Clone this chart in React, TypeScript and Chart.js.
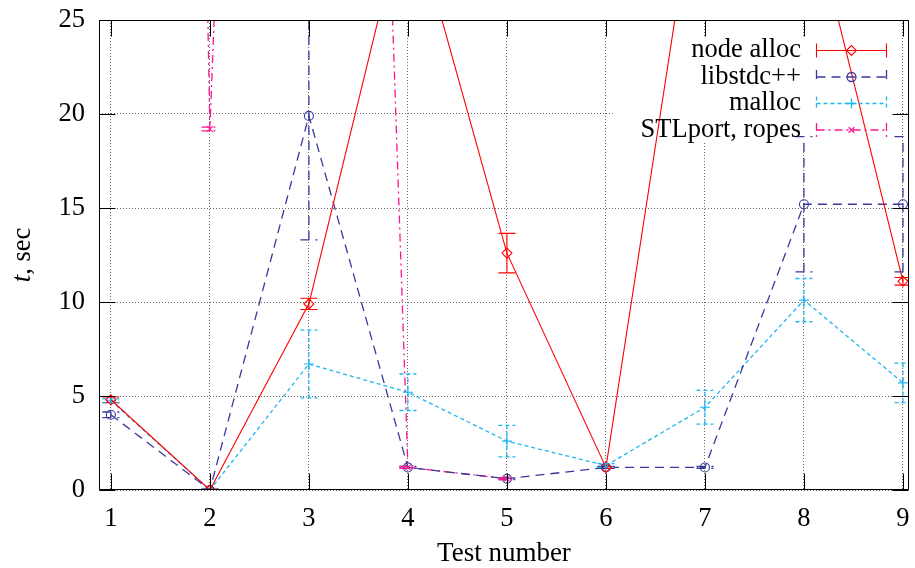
import React, { useEffect, useRef } from 'react';
import { Chart, registerables } from 'chart.js';

Chart.register(...registerables);

// ---- data ----
const tests = [1, 2, 3, 4, 5, 6, 7, 8, 9];
const yTickValues = [0, 5, 10, 15, 20, 25];

const nodeAlloc = [4.8, 0, 9.9, 31.5, 12.6, 1.2, 35.4, 32.4, 11.1];
const nodeAllocErr = [0.15, 0.05, 0.3, 0.5, 1.05, 0.05, 0.5, 0.5, 0.2];

const libstdcpp = [4.0, 0, 19.9, 1.2, 0.6, 1.2, 1.2, 15.2, 15.2];
const libstdcppErr = [0.15, 0.05, 6.6, 0.05, 0.05, 0.05, 0.05, 3.6, 3.6];

const mallocT = [4.75, 0, 6.7, 5.2, 2.6, 1.3, 4.4, 10.1, 5.7];
const mallocErr = [0.1, 0.05, 1.8, 0.97, 0.84, 0.1, 0.9, 1.15, 1.05];

const stlport = [300, 19.2, 155, 1.2, 0.6, null, null, null, null];
const stlportErr = [1, 0.1, 1, 0.05, 0.05, 0, 0, 0, 0];

const seriesNames = ['node alloc', 'libstdc++', 'malloc', 'STLport, ropes'];

const FONT = 'Liberation Serif, Times New Roman, serif';

function toPoints(vals: (number | null)[]) {
  return tests.map((t, i) => ({ x: t, y: vals[i] }));
}

function drawMarker(ctx: CanvasRenderingContext2D, style: string, r: number, x: number, y: number) {
  ctx.beginPath();
  if (style === 'rectRot') {
    ctx.moveTo(x - r, y);
    ctx.lineTo(x, y - r);
    ctx.lineTo(x + r, y);
    ctx.lineTo(x, y + r);
    ctx.closePath();
  } else if (style === 'circle') {
    ctx.arc(x, y, r, 0, Math.PI * 2);
  } else if (style === 'cross') {
    ctx.moveTo(x - r, y);
    ctx.lineTo(x + r, y);
    ctx.moveTo(x, y - r);
    ctx.lineTo(x, y + r);
  } else if (style === 'crossRot') {
    const d = r * Math.SQRT1_2;
    ctx.moveTo(x - d, y - d);
    ctx.lineTo(x + d, y + d);
    ctx.moveTo(x - d, y + d);
    ctx.lineTo(x + d, y - d);
  }
  ctx.stroke();
}

const maskPlugin = {
  id: 'keyMask',
  beforeDatasetsDraw(chart: any) {
    const ctx = chart.ctx;
    ctx.save();
    ctx.fillStyle = '#ffffff';
    ctx.fillRect(613, 38, 284, 104);
    ctx.restore();
  },
};

const errorBarPlugin = {
  id: 'errorBars',
  afterDatasetsDraw(chart: any) {
    const { ctx, chartArea, scales } = chart;
    ctx.save();
    ctx.beginPath();
    ctx.rect(chartArea.left, chartArea.top, chartArea.right - chartArea.left, chartArea.bottom - chartArea.top);
    ctx.clip();
    chart.data.datasets.forEach((ds: any) => {
      const errs: number[] = ds.errors;
      ctx.strokeStyle = ds.borderColor;
      ctx.lineWidth = ds.borderWidth;
      ctx.setLineDash(ds.borderDash || []);
      ds.data.forEach((p: any, j: number) => {
        if (p.y == null) return;
        const x = scales.x.getPixelForValue(p.x);
        const y1 = scales.y.getPixelForValue(p.y - errs[j]);
        const y2 = scales.y.getPixelForValue(p.y + errs[j]);
        ctx.beginPath();
        ctx.moveTo(x, y1);
        ctx.lineTo(x, y2);
        ctx.moveTo(x - 8.5, y1);
        ctx.lineTo(x + 8.5, y1);
        ctx.moveTo(x - 8.5, y2);
        ctx.lineTo(x + 8.5, y2);
        ctx.stroke();
      });
    });
    ctx.restore();
  },
};

const framePlugin = {
  id: 'frame',
  afterDatasetsDraw(chart: any) {
    const { ctx, chartArea, scales } = chart;
    const { left, right, top, bottom } = chartArea;
    ctx.save();
    ctx.strokeStyle = '#000';
    ctx.lineWidth = 1;
    ctx.setLineDash([]);
    ctx.beginPath();
    const L = Math.round(left) + 0.5, R = Math.round(right) - 0.5;
    const T = Math.round(top) + 0.5, B = Math.round(bottom) - 0.5;
    ctx.rect(L, T, R - L, B - T);
    const tl = 16;
    tests.forEach((t) => {
      const x = Math.round(scales.x.getPixelForValue(t)) + 0.5;
      ctx.moveTo(x, B);
      ctx.lineTo(x, B - tl);
      ctx.moveTo(x, T);
      ctx.lineTo(x, T + tl);
    });
    yTickValues.forEach((v) => {
      const y = Math.round(scales.y.getPixelForValue(v)) + 0.5;
      ctx.moveTo(L, y);
      ctx.lineTo(L + tl, y);
      ctx.moveTo(R, y);
      ctx.lineTo(R - tl, y);
    });
    ctx.stroke();
    ctx.restore();
  },
};

const keyPlugin = {
  id: 'gnuKey',
  afterDatasetsDraw(chart: any) {
    const ctx = chart.ctx;
    ctx.save();
    chart.data.datasets.forEach((ds: any, i: number) => {
      const rowY = 50.5 + i * 26.5;
      ctx.font = `26.5px ${FONT}`;
      ctx.fillStyle = '#000';
      ctx.textAlign = 'right';
      ctx.textBaseline = 'alphabetic';
      ctx.fillText(ds.label, 801, rowY + 6.5);
      ctx.strokeStyle = ds.borderColor;
      ctx.lineWidth = ds.borderWidth;
      ctx.setLineDash(ds.borderDash || []);
      ctx.beginPath();
      ctx.moveTo(816.5, rowY);
      ctx.lineTo(886.5, rowY);
      ctx.moveTo(816.5, rowY - 7);
      ctx.lineTo(816.5, rowY + 7);
      ctx.moveTo(886.5, rowY - 7);
      ctx.lineTo(886.5, rowY + 7);
      ctx.stroke();
      ctx.setLineDash([]);
      drawMarker(ctx, ds.pointStyle, ds.pointRadius, 851.5, rowY);
    });
    ctx.restore();
  },
};

const titlesPlugin = {
  id: 'axisTitles',
  afterDraw(chart: any) {
    const ctx = chart.ctx;
    const { left, right } = chart.chartArea;
    ctx.save();
    ctx.fillStyle = '#000';
    ctx.textBaseline = 'alphabetic';
    ctx.textAlign = 'center';
    ctx.font = `27px ${FONT}`;
    ctx.fillText('Test number', (left + right) / 2, 561);

    // y title: italic "t" + ", sec", rotated
    ctx.translate(30, 255);
    ctx.rotate(-Math.PI / 2);
    ctx.textAlign = 'left';
    ctx.font = `italic 26.5px ${FONT}`;
    const w1 = ctx.measureText('t').width;
    ctx.font = `26.5px ${FONT}`;
    const w2 = ctx.measureText(', sec').width;
    const start = -(w1 + w2) / 2;
    ctx.font = `italic 26.5px ${FONT}`;
    ctx.fillText('t', start, 0);
    ctx.font = `26.5px ${FONT}`;
    ctx.fillText(', sec', start + w1, 0);
    ctx.restore();
  },
};

function zeroPadding(s: any) {
  s.paddingTop = 0;
  s.paddingBottom = 0;
  s.paddingLeft = 0;
  s.paddingRight = 0;
}

export default function App() {
  const ref = useRef<HTMLCanvasElement>(null);

  useEffect(() => {
    if (!ref.current) return;
    const common = {
      pointBorderWidth: 1.1,
      pointBackgroundColor: 'rgba(0,0,0,0)',
      fill: false,
      tension: 0,
      spanGaps: false,
    };
    const chart = new Chart(ref.current, {
      type: 'line',
      data: {
        datasets: [
          {
            ...common,
            label: seriesNames[0],
            data: toPoints(nodeAlloc),
            errors: nodeAllocErr,
            borderWidth: 1.1,
            borderColor: '#ff0000',
            pointBorderColor: '#ff0000',
            borderDash: [],
            pointStyle: 'rectRot',
            pointRadius: 5,
          },
          {
            ...common,
            label: seriesNames[1],
            data: toPoints(libstdcpp),
            errors: libstdcppErr,
            borderWidth: 1.3,
            borderColor: '#3a3a9c',
            pointBorderColor: '#3a3a9c',
            borderDash: [9, 6],
            pointStyle: 'circle',
            pointRadius: 4.5,
          },
          {
            ...common,
            label: seriesNames[2],
            data: toPoints(mallocT),
            errors: mallocErr,
            borderWidth: 1.3,
            borderColor: '#1fb6f0',
            pointBorderColor: '#1fb6f0',
            borderDash: [4, 3],
            pointStyle: 'cross',
            pointRadius: 5,
          },
          {
            ...common,
            label: seriesNames[3],
            data: toPoints(stlport),
            errors: stlportErr,
            borderWidth: 1.3,
            borderColor: '#ff1493',
            pointBorderColor: '#ff1493',
            borderDash: [8, 4, 2, 4],
            pointStyle: 'crossRot',
            pointRadius: 4,
          },
        ] as any,
      },
      options: {
        responsive: false,
        animation: false,
        devicePixelRatio: 1,
        layout: { padding: { top: 20, right: 5, left: 0, bottom: 0 } },
        plugins: {
          legend: { display: false },
          tooltip: { enabled: false },
          title: { display: false },
        },
        scales: {
          x: {
            type: 'linear',
            min: 0.88,
            max: 9.06,
            afterBuildTicks: (s: any) => {
              s.ticks = tests.map((v) => ({ value: v }));
            },
            afterFit: (s: any) => {
              s.height = 78;
              zeroPadding(s);
            },
            ticks: {
              color: '#000',
              font: { family: FONT, size: 26.5 },
              padding: 13,
              maxRotation: 0,
              autoSkip: false,
              callback: (v: any) => String(v),
            },
            grid: { color: 'rgba(0,0,0,0.6)', drawTicks: false, lineWidth: 1 },
            border: { display: false, dash: [1, 2] },
          },
          y: {
            type: 'linear',
            min: 0,
            max: 25,
            afterBuildTicks: (s: any) => {
              s.ticks = yTickValues.map((v) => ({ value: v }));
            },
            afterFit: (s: any) => {
              s.width = 99;
              zeroPadding(s);
            },
            ticks: {
              color: '#000',
              font: { family: FONT, size: 26.5 },
              padding: 14,
              autoSkip: false,
              callback: (v: any) => String(v),
            },
            grid: { color: 'rgba(0,0,0,0.6)', drawTicks: false, lineWidth: 1 },
            border: { display: false, dash: [1, 2] },
          },
        },
      } as any,
      plugins: [maskPlugin, errorBarPlugin, framePlugin, keyPlugin, titlesPlugin],
    });
    return () => chart.destroy();
  }, []);

  return (
    <div style={{ position: 'fixed', left: 0, top: 0, width: 915, height: 568, background: '#fff' }}>
      <canvas ref={ref} width={915} height={568} style={{ width: 915, height: 568, display: 'block' }} />
    </div>
  );
}
